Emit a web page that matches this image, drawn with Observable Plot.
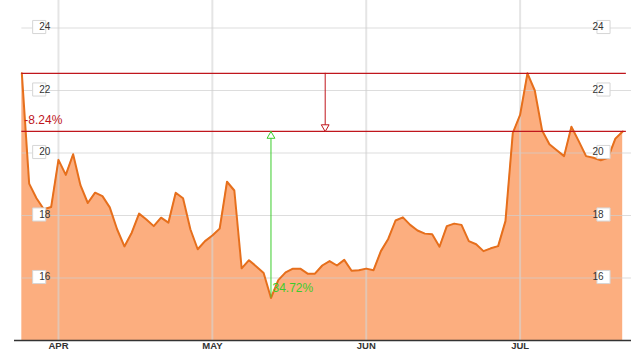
<!DOCTYPE html>
<html>
<head>
<meta charset="utf-8">
<script src="https://cdn.jsdelivr.net/npm/d3@7"></script>
<script src="https://cdn.jsdelivr.net/npm/@observablehq/plot@0.6"></script>
<style>
  html, body { margin: 0; padding: 0; background: #fff; }
  #chart svg { display: block; }
</style>
</head>
<body>
<div id="chart"></div>
<script>
// ---- data ----
const prices = [
  22.55, 19.02, 18.55, 18.20, 18.27, 19.78, 19.30, 19.96, 18.97, 18.40,
  18.73, 18.62, 18.26, 17.56, 17.01, 17.45, 18.06, 17.87, 17.66, 17.93,
  17.77, 18.73, 18.55, 17.56, 16.92, 17.18, 17.36, 17.58, 19.08, 18.80,
  16.31, 16.57, 16.37, 16.16, 15.36, 15.93, 16.18, 16.30, 16.30, 16.14,
  16.14, 16.40, 16.54, 16.40, 16.58, 16.23, 16.25, 16.30, 16.25, 16.86,
  17.25, 17.84, 17.94, 17.70, 17.52, 17.42, 17.40, 17.00, 17.66, 17.74,
  17.70, 17.18, 17.08, 16.86, 16.95, 17.02, 17.82, 20.64, 21.22, 22.55,
  22.00, 20.72, 20.28, 20.09, 19.90, 20.84, 20.38, 19.90, 19.85, 19.77,
  19.85, 20.46, 20.69
];
const monthLabels = ["APR", "MAY", "JUN", "JUL"];
const monthStarts = [5, 26, 47, 68];          // trading-day index of first day of month
const yTicks = [16, 18, 20, 22, 24];

const highValue = 22.55;
const lastValue = 20.69;
const lowValue = 15.36;
const lowIndex = 34;
const dropIndex = 41.4;
const dropLabel = "-8.24%";
const riseLabel = "34.72%";

// ---- tables built from the arrays ----
const series = prices.map((v, i) => ({i, v}));
const months = monthLabels.map((m, k) => ({m, i: monthStarts[k]}));

const FONT = "'Liberation Sans', Arial, sans-serif";
const RED = "#c0161c";
const GREEN = "#3ccc2c";

const chart = Plot.plot({
  width: 644,
  height: 357,
  marginLeft: 14,
  marginRight: 13,
  marginTop: 0,
  marginBottom: 17,
  x: {domain: [-1, 83.2], axis: null},
  y: {domain: [14, 24.88], axis: null},
  style: {fontFamily: FONT, background: "#fff", overflow: "visible"},
  marks: [
    // filled area
    Plot.area(series, {x1: "i", y1: 14, y2: "v", fill: "#fcae7f"}),
    // vertical month gridlines
    Plot.ruleX(monthStarts, {stroke: "#d4d4d4", strokeOpacity: 0.6, strokeWidth: 2}),
    // horizontal gridlines
    Plot.ruleY(yTicks, {x1: 0, x2: 83.2, stroke: "#cfcfcf", strokeOpacity: 0.7, strokeWidth: 1.2}),
    // price line
    Plot.line(series, {x: "i", y: "v", stroke: "#e66f1c", strokeWidth: 2, strokeLinejoin: "round"}),
    // bottom axis line
    Plot.ruleY([14], {stroke: "#333", strokeWidth: 1.5}),
    // red reference lines
    Plot.ruleY([highValue, lastValue], {x1: 0, x2: 82.5, stroke: RED, strokeWidth: 1.2}),
    // red drop arrow
    Plot.ruleX([dropIndex], {y1: highValue, y2: lastValue, stroke: RED, strokeWidth: 1}),
    Plot.dot([dropIndex], {x: d => d, y: lastValue, symbol: "triangle", rotate: 180, r: 2.9, dy: -4.4, fill: "#fff", stroke: RED, strokeWidth: 1}),
    // green rise arrow
    Plot.ruleX([lowIndex], {y1: lowValue, y2: lastValue, stroke: GREEN, strokeWidth: 1}),
    Plot.dot([lowIndex], {x: d => d, y: lastValue, symbol: "triangle", r: 2.9, dy: 4.6, fill: "#fff", stroke: GREEN, strokeWidth: 1}),
    // labels
    Plot.text([dropLabel], {x: 0, y: lastValue, text: d => d, dx: 2.5, dy: -11, textAnchor: "start", fill: RED, fontSize: 12}),
    Plot.text([riseLabel], {x: lowIndex, y: lowValue, text: d => d, dx: 1.5, dy: -10, textAnchor: "start", fill: GREEN, fontSize: 12}),
    // y tick label boxes (left & right)
    Plot.dot(yTicks, {y: d => d, frameAnchor: "left", dx: 24.7, dy: -1, symbol: "square", r: 7.4, fill: "#fff", stroke: "#d6d6d6", strokeWidth: 1}),
    Plot.text(yTicks, {y: d => d, frameAnchor: "left", dx: 24.7, dy: -1, text: d => String(d), fill: "#333", fontSize: 10}),
    Plot.dot(yTicks, {y: d => d, frameAnchor: "right", dx: -28, dy: -1, symbol: "square", r: 7.4, fill: "#fff", stroke: "#d6d6d6", strokeWidth: 1}),
    Plot.text(yTicks, {y: d => d, frameAnchor: "right", dx: -28, dy: -1, text: d => String(d), fill: "#333", fontSize: 10}),
    // month labels
    Plot.text(months, {x: "i", frameAnchor: "bottom", dy: 8, text: "m", fill: "#333", fontSize: 9.5, fontWeight: "bold"})
  ]
});

document.getElementById("chart").appendChild(chart);
</script>
</body>
</html>
